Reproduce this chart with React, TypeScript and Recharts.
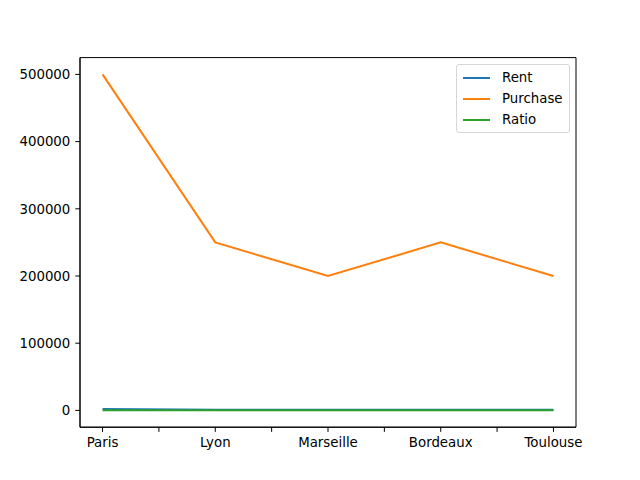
import React from 'react'
import { LineChart, Line, XAxis, YAxis, ReferenceArea } from 'recharts'

const cities = ['Paris', 'Lyon', 'Marseille', 'Bordeaux', 'Toulouse']
const rent = [2000, 1000, 800, 1000, 800]
const purchase = [500000, 250000, 200000, 250000, 200000]
const ratio = [250, 250, 250, 250, 250]
const yTicks = [0, 100000, 200000, 300000, 400000, 500000]
const xTicks = [0, 0.5, 1, 1.5, 2, 2.5, 3, 3.5, 4]

const series = [
  { key: 'Rent', color: '#1f77b4' },
  { key: 'Purchase', color: '#ff7f0e' },
  { key: 'Ratio', color: '#2ca02c' },
]

const data = cities.map((c, i) => ({ x: i, Rent: rent[i], Purchase: purchase[i], Ratio: ratio[i] }))

const font = { fontFamily: 'DejaVu Sans', fontSize: 13.33, fill: '#000' }

function LegendBox() {
  return (
    <div style={{ position: 'absolute', left: 456, top: 64, background: 'rgba(255,255,255,0.8)', border: '1px solid #d6d6d6', borderRadius: 3, padding: '2px 6px 2px 6px', fontFamily: 'DejaVu Sans', fontSize: 13.33, color: '#000' }}>
      {series.map(s => (
        <div key={s.key} style={{ display: 'flex', alignItems: 'center', height: 21 }}>
          <div style={{ width: 27, height: 2, background: s.color, marginRight: 12 }} />
          <span>{s.key}</span>
        </div>
      ))}
    </div>
  )
}

export default function App() {
  return (
    <div style={{ position: 'absolute', left: 0, top: 0, width: 640, height: 480, background: '#fff' }}>
      <LineChart width={640} height={480} data={data} margin={{ top: 57.6, right: 64, bottom: 0, left: 0 }}>
        <XAxis dataKey='x' type='number' domain={[-0.2, 4.2]} ticks={xTicks} allowDataOverflow
          tickFormatter={(v: number) => (Number.isInteger(v) ? cities[v] : '')}
          height={52.8} tick={font} tickSize={4.67} tickMargin={6} stroke='#000' interval={0} />
        <YAxis type='number' domain={[-25000, 525000]} ticks={yTicks} allowDataOverflow
          width={80} tick={font} tickSize={4.67} tickMargin={5} stroke='#000' />
        <ReferenceArea x1={-0.2} x2={4.2} y1={-25000} y2={525000} fill='none' stroke='#000' strokeWidth={1} />
        {series.map(s => (
          <Line key={s.key} dataKey={s.key} stroke={s.color} strokeWidth={2} dot={false} isAnimationActive={false} />
        ))}
      </LineChart>
      <LegendBox />
    </div>
  )
}
